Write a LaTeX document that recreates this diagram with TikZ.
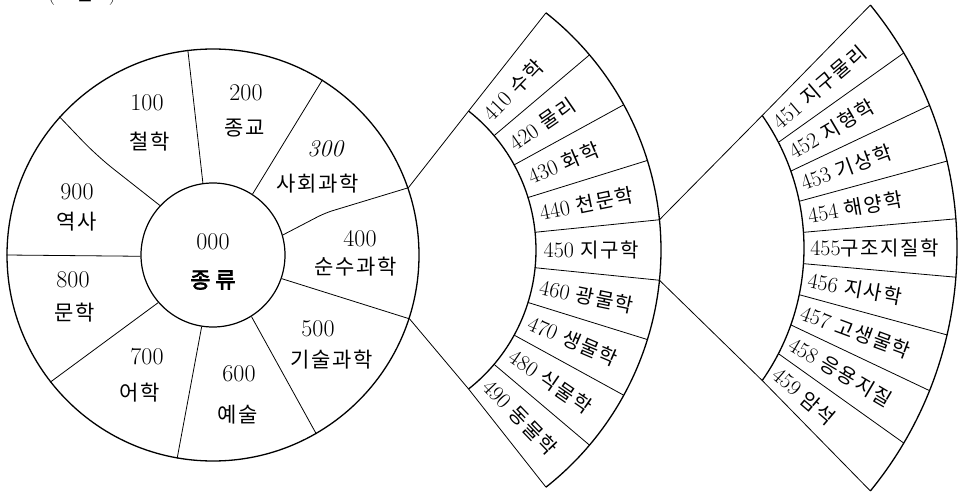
\documentclass[tikz,border=0pt]{standalone}
\usepackage{fontspec}
\newfontfamily\kr[LetterSpace=8]{Noto Sans CJK KR}
\newfontfamily\krbold[FakeBold=3]{Noto Sans CJK KR}
\usetikzlibrary{calc}
\tikzset{
  rim/.style={draw, line width=1.3pt},
  divider/.style={draw, line width=0.8pt},
  wheelnum/.style={inner sep=0pt, font=\fontsize{24}{26}\selectfont},
  wheelname/.style={inner sep=0pt, font=\kr\fontsize{21}{24}\selectfont},
  fanlabel/.style={inner sep=0pt, anchor=west, sloped, font=\fontsize{22}{24}\selectfont},
}

\begin{document}
\begin{tikzpicture}[x=1pt, y=1pt]
\useasboundingbox (0,0) rectangle (958,496);
\node[anchor=south, inner sep=0pt, font=\fontsize{20}{22}\selectfont] (title) at (82,490) {({\kr 그림} 1)};

% wheel of the ten classes
\node[circle, rim, minimum size=412pt, inner sep=0pt] (wheel) at (213,241) {};
\node[circle, draw, line width=1.2pt, minimum size=144pt, inner sep=0pt] (core) at (213,241) {};
\foreach \o/\i in {97/98, 58/57, -18/-19, -60/-58, -100/-99, -142/-139, 180/181}
  \draw[divider] (wheel.\o) -- (core.\i);
\coordinate (bend3) at (325,283);
\coordinate (bend9) at (97,340);
\draw[divider, rounded corners=8pt] (wheel.19) -- (bend3) -- (core.16);
\draw[divider, rounded corners=20pt] (wheel.138) -- (bend9) -- (core.137);

\foreach \num/\name/\nx/\ny/\tx/\ty [count=\i] in {
    100/철학/147/393/150/354,
    200/종교/246/403/245/368,
    \textit{300}/사회과학/326/347/318/312,
    400/순수과학/360/257/356/229,
    500/기술과학/318/167/332/136,
    600/예술/239/122/238/81,
    700/어학/147/139/140/103,
    800/문학/73/216/75/183,
    900/역사/77/304/77/274}
{
  \node[wheelnum] (num\i) at (\nx,\ny) {\num};
  \node[wheelname] (name\i) at (\tx,\ty) {\name};
}
\node[wheelnum] (num0) at (213,254) {000};
\node[wheelname, font=\krbold\fontsize{22}{24}\selectfont] (name0) at (213,216) {종 류};

% 400 fan
\coordinate (mid) at (359,246);
\foreach \k in {0,...,9} {
  \coordinate (m-in-\k) at ([shift={(51.75-11.5*\k:177)}]mid);
  \coordinate (m-out-\k) at ([shift={(51.75-11.5*\k:302)}]mid);
  \draw[divider] (m-in-\k) -- (m-out-\k);
}
\draw[rim] (m-in-0) arc[start angle=51.75, end angle=-51.75, radius=177];
\draw[rim] (m-out-0) arc[start angle=51.75, end angle=-51.75, radius=302];
\foreach \num/\name [count=\k from 0] in {410/수학, 420/물리, 430/화학, 440/천문학,
    450/지구학, 460/광물학, 470/생물학, 480/식물학, 490/동물학}
  \path ([shift={(46-11.5*\k:177)}]mid) -- ([shift={(46-11.5*\k:302)}]mid)
    node[fanlabel, pos=0.06] (m-lab-\k) {\num\ {\kr\fontsize{20}{22}\selectfont\name}};

% 450 fan
\coordinate (sub) at (573,248);
\foreach \k in {0,...,9} {
  \coordinate (s-in-\k) at ([shift={(35-70/9*\k:231)}]sub);
  \coordinate (s-out-\k) at ([shift={(39.25-78.5/9*\k:384)}]sub);
  \draw[divider] (s-in-\k) -- (s-out-\k);
}
\draw[rim] (s-in-0) arc[start angle=35, end angle=-35, radius=231];
\draw[rim] (s-out-0) arc[start angle=39.25, end angle=-39.25, radius=384];
\foreach \num/\name/\gap [count=\k from 0,
    evaluate=\k as \a using 35-70/9*(\k+0.5),
    evaluate=\k as \b using 39.25-78.5/9*(\k+0.5)] in {451/지구물리/\ , 452/지형학/\ ,
    453/기상학/\ , 454/해양학/\ , 455/구조지질학/, 456/지사학/\ , 457/고생물학/\ ,
    458/응용지질/\ , 459/암석/\ }
  \path ([shift={(\a:231)}]sub) -- ([shift={(\b:384)}]sub)
    node[fanlabel, pos=0.04] (s-lab-\k) {\num\gap{\kr\fontsize{20}{22}\selectfont\name}};

% connectors
\draw[divider] (wheel.19) -- (m-in-0);
\draw[divider] (wheel.-18) -- (m-in-9);
\draw[divider] (m-out-4) -- (s-in-0);
\draw[divider] (m-out-5) -- (s-in-9);
\end{tikzpicture}
\end{document}
